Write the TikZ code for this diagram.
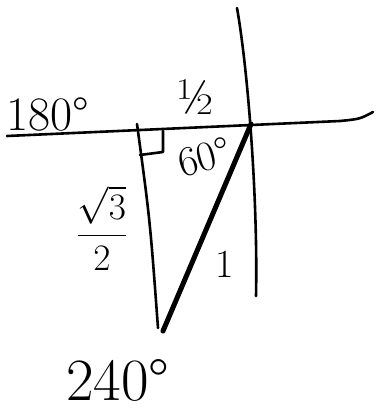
\documentclass[tikz,border=0pt]{standalone}
\tikzset{
  stroke/.style={line width=2.6pt, line cap=round, line join=round},
  hstroke/.style={line width=5pt, line cap=round},
  hand/.style={inner sep=0pt, font=\fontsize{#1}{#1}\selectfont}
}

\begin{document}
\begin{tikzpicture}[x=1pt,y=-1pt]
    \useasboundingbox (0,0) rectangle (376,412);

    \coordinate (axisL) at (7,136);
    \coordinate (axisM) at (340,121);
    \coordinate (axisR) at (373,112);
    \coordinate (arcT) at (237,8);
    \coordinate (arcB) at (256,296);
    \coordinate (O) at (251,124);
    \coordinate (foot) at (137,124);
    \coordinate (legB) at (158,328);
    \coordinate (tip) at (163,331);

    \draw[stroke] (axisL) -- (axisM) .. controls (360,119) .. (axisR);
    \draw[stroke] (arcT) .. controls (248,70) and (258,200) .. (arcB);
    \draw[stroke] (foot) .. controls (150,220) .. (legB);
    \draw[stroke] (140,155) -- (163,152) -- (163,131);
    \draw[hstroke] (O) -- (tip);

    \node[hand=48] (l180) at (48,114) {180\textdegree};
    \node[hand=50] (lhalf) at (196,97) {½};
    \node[hand=42,rotate=15] (l60) at (204,157) {60\textdegree};
    \node[inner sep=0pt, font=\Huge, scale=1.5, transform shape] (lsin) at (102,228)
        {$\displaystyle\frac{\sqrt{3}}{2}$};
    \node[hand=40] (lone) at (225,264) {1};
    \node[hand=60] (l240) at (118,380) {240\textdegree};
\end{tikzpicture}
\end{document}
